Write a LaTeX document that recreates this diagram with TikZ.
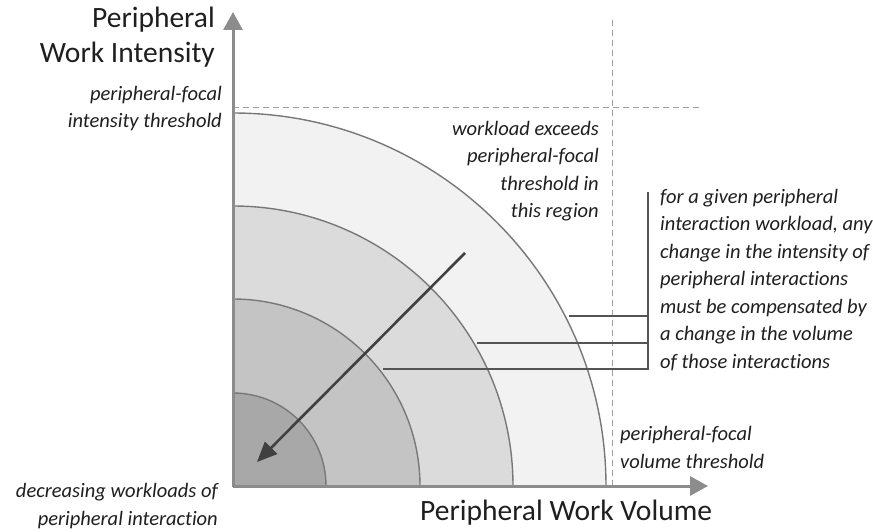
\documentclass[tikz,border=0pt]{standalone}
\usepackage{fontspec}
\setmainfont{Carlito}[Ligatures=NoCommon]
\usetikzlibrary{arrows.meta}
\definecolor{ringA}{gray}{0.66}
\definecolor{ringB}{gray}{0.77}
\definecolor{ringC}{gray}{0.86}
\definecolor{ringD}{gray}{0.95}
\definecolor{arcgray}{gray}{0.47}
\definecolor{axisgray}{gray}{0.55}
\definecolor{dashgray}{gray}{0.62}
\definecolor{leadgray}{gray}{0.33}
\definecolor{arrowdark}{gray}{0.25}
\definecolor{txt}{gray}{0.12}
\begin{document}
\begin{tikzpicture}[x=1pt,y=1pt,
  arcline/.style={draw=arcgray, line width=1.4pt},
  axisline/.style={draw=axisgray, line width=3pt, -{Triangle[length=18pt,width=19pt]}},
  dashline/.style={draw=dashgray, line width=1pt, dash pattern=on 6pt off 4pt},
  leader/.style={draw=leadgray, line width=2pt},
  diagarrow/.style={draw=arrowdark, line width=2.6pt, -{Triangle[length=20pt,width=17pt]}},
  lab/.style={font=\fontsize{20.5}{27.5}\selectfont\itshape, inner sep=0pt, text=txt},
  ttl/.style={font=\fontsize{29.5}{35}\selectfont, inner sep=0pt, text=txt}
]
\useasboundingbox (0,0) rectangle (873,531);
\fill[white] (0,0) rectangle (873,531);
\coordinate (O) at (233,45);
% threshold lines
\coordinate (hd1) at (233,423);
\coordinate (hd2) at (703,423);
\coordinate (vd1) at (612,511);
\coordinate (vd2) at (612,45);
\draw[dashline] (hd1) -- (hd2);
\draw[dashline] (vd1) -- (vd2);
% rings
\filldraw[fill=ringD, arcline] (O) -- ++(373,0) arc[start angle=0,end angle=90,radius=373] -- cycle;
\filldraw[fill=ringC, arcline] (O) -- ++(280,0) arc[start angle=0,end angle=90,radius=280] -- cycle;
\filldraw[fill=ringB, arcline] (O) -- ++(187,0) arc[start angle=0,end angle=90,radius=187] -- cycle;
\filldraw[fill=ringA, arcline] (O) -- ++(93,0) arc[start angle=0,end angle=90,radius=93] -- cycle;
% axes
\coordinate (ytip) at (233,519);
\coordinate (xtip) at (708,45);
\draw[axisline] (O) -- (ytip);
\draw[axisline] (O) -- (xtip);
% diagonal arrow
\coordinate (da1) at (465,278);
\coordinate (da2) at (257,69);
\draw[diagarrow] (da1) -- (da2);
% leaders
\coordinate (l1a) at (569,215);
\coordinate (l1b) at (648,215);
\coordinate (l2a) at (477,188);
\coordinate (l2b) at (648,188);
\coordinate (l3a) at (383,162);
\coordinate (l3b) at (648,162);
\coordinate (lv) at (648,338);
\draw[leader] (l1a) -- (l1b);
\draw[leader] (l2a) -- (l2b);
\draw[leader] (l3a) -- (l3b);
\draw[leader, line cap=rect] (lv) -- (l3b);
% texts (base anchor = last line's baseline)
\node[ttl, anchor=base east, align=right] (ytitle) at (215,468) {Peripheral\\Work Intensity};
\node[ttl, anchor=base west] (xtitle) at (420,11) {Peripheral Work Volume};
\node[lab, anchor=base east, align=right] (ithr) at (222,403) {peripheral-focal\\intensity threshold};
\node[lab, anchor=base east, align=right] (exceed) at (599,313) {workload exceeds\\peripheral-focal\\threshold in\\this region};
\node[lab, anchor=base west, align=left] (given) at (660,163) {for a given peripheral\\interaction workload, any\\change in the intensity of\\peripheral interactions\\must be compensated by\\a change in the volume\\of those interactions};
\node[lab, anchor=base west, align=left] (vthr) at (620,63) {peripheral-focal\\volume threshold};
\node[lab, anchor=base east, align=right] (decr) at (218,6) {decreasing workloads of\\peripheral interaction};
\end{tikzpicture}
\end{document}
